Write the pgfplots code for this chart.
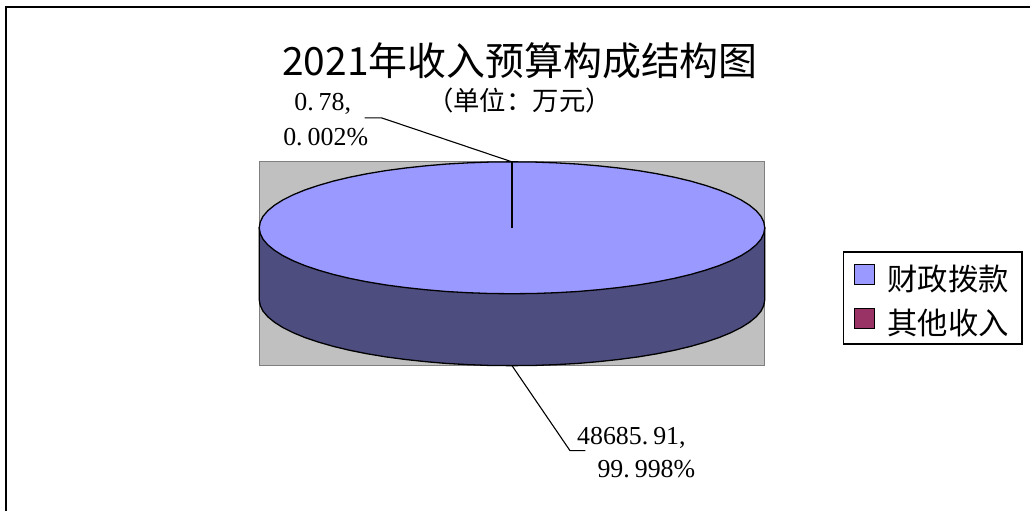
\documentclass[border=0pt]{standalone}
\usepackage{pgfplots}
\usepackage{pgfplotstable}
\usepackage{fontspec}
\pgfplotsset{compat=1.18}
\setmainfont{Liberation Sans}
\newfontfamily\cjk{Noto Sans CJK SC}
\newfontfamily\numfont{Liberation Serif}
\definecolor{pietop}{HTML}{9999FF}
\definecolor{pieside}{HTML}{4D4D80}
\definecolor{piewall}{HTML}{C0C0C0}
\definecolor{pieother}{HTML}{993366}

% rim of the disc, read off in pixels
\pgfplotstableread{
x y
765.5 228.0
764.5 222.2
761.7 216.5
756.9 210.9
750.2 205.4
741.8 200.1
731.6 195.0
719.7 190.1
706.3 185.6
691.4 181.3
675.1 177.4
657.6 173.9
639.0 170.8
619.4 168.2
599.0 166.0
578.0 164.2
556.4 163.0
534.6 162.2
512.5 162.0
490.4 162.2
468.6 163.0
447.0 164.2
426.0 166.0
405.6 168.2
386.0 170.8
367.4 173.9
349.9 177.4
333.6 181.3
318.7 185.6
305.3 190.1
293.4 195.0
283.2 200.1
274.8 205.4
268.1 210.9
263.3 216.5
260.5 222.2
259.5 228.0
260.5 233.8
263.3 239.5
268.1 245.1
274.8 250.6
283.2 255.9
293.4 261.0
305.3 265.9
318.7 270.4
333.6 274.7
349.9 278.6
367.4 282.1
386.0 285.2
405.6 287.8
426.0 290.0
447.0 291.8
468.6 293.0
490.4 293.8
512.5 294.0
534.6 293.8
556.4 293.0
578.0 291.8
599.0 290.0
619.4 287.8
639.0 285.2
657.6 282.1
675.1 278.6
691.4 274.7
706.3 270.4
719.7 265.9
731.6 261.0
741.8 255.9
750.2 250.6
756.9 245.1
761.7 239.5
764.5 233.8
765.5 228.0
}\rimtable

\pgfplotstableread{
x y
259.5 228.0
259.5 300.0
260.5 305.8
263.3 311.5
268.1 317.1
274.8 322.6
283.2 327.9
293.4 333.0
305.3 337.9
318.7 342.4
333.6 346.7
349.9 350.6
367.4 354.1
386.0 357.2
405.6 359.8
426.0 362.0
447.0 363.8
468.6 365.0
490.4 365.8
512.5 366.0
534.6 365.8
556.4 365.0
578.0 363.8
599.0 362.0
619.4 359.8
639.0 357.2
657.6 354.1
675.1 350.6
691.4 346.7
706.3 342.4
719.7 337.9
731.6 333.0
741.8 327.9
750.2 322.6
756.9 317.1
761.7 311.5
764.5 305.8
765.5 300.0
765.5 228.0
}\sidetable

\begin{document}
\begin{tikzpicture}
  \begin{axis}[
      width=1031bp, height=511bp,
      scale only axis,
      xmin=0, xmax=1031,
      ymin=0, ymax=511,
      y dir=reverse,
      hide axis,
      clip=false,
      legend cell align=left,
      legend style={
        at={(axis cs:843.5,251.5)}, anchor=north west,
        draw=black, line width=1.5bp,
        inner xsep=11bp, inner ysep=9bp,
        row sep=14bp,
        font=\fontsize{30.5}{32}\selectfont\cjk,
        nodes={text height=30bp, text depth=0bp, inner ysep=0bp},
        /tikz/every odd column/.append style={column sep=10bp},
        /tikz/every even column/.append style={column sep=0bp},
      },
    ]
    % outer frame, only top and left show
    \addplot[forget plot, draw=black, line width=2bp] coordinates {
      (6.5,511) (6.5,7) (1031,7)
    };
    \addplot[forget plot, draw=none] coordinates {(0,0) (1031,511)};
    % plot wall
    \addplot[forget plot, fill=piewall, draw=gray, line width=1bp] coordinates {
      (259.5,162) (765.5,162) (765.5,366) (259.5,366)
    } -- cycle;
    \addplot[forget plot, fill=pieside, draw=black, line width=1.3bp] table {\sidetable} -- cycle;
    \addplot[fill=pietop, draw=black, line width=1.3bp,
      legend image code/.code={
        \draw[fill=pietop, draw=black, line width=1bp] (0bp,-9bp) rectangle (20bp,11bp);
      }] table {\rimtable} -- cycle;
    \addlegendentry{财政拨款}
    % 0.78 slice, too thin to be more than a line
    \addplot[fill=pieother, draw=black, line width=1.3bp,
      legend image code/.code={
        \draw[fill=pieother, draw=black, line width=1bp] (0bp,-9bp) rectangle (20bp,11bp);
      }] coordinates {(512.5,228) (512.5,162)};
    \addlegendentry{其他收入}
    % leader lines
    \addplot[forget plot, draw=black, line width=1.1bp] coordinates {
      (365,118) (382,118) (512.5,162)
    };
    \addplot[forget plot, draw=black, line width=1.1bp] coordinates {
      (512.5,366) (570.5,451) (586,451)
    };
    \node[font=\fontsize{39.1}{41}\selectfont\cjk, anchor=center] at (axis cs:520.5,60.5) {2021年收入预算构成结构图};
    \node[font=\fontsize{26.5}{28}\selectfont\cjk, anchor=center] at (axis cs:520,101) {（单位：万元）};
    \node[font=\fontsize{26}{28}\selectfont\numfont, anchor=center] at (axis cs:323,104) {0.\kern5bp 78,};
    \node[font=\fontsize{26}{28}\selectfont\numfont, anchor=center] at (axis cs:326,137) {0.\kern5bp 002\%};
    \node[font=\fontsize{26}{28}\selectfont\numfont, anchor=center] at (axis cs:632,438) {48685.\kern5bp 91,};
    \node[font=\fontsize{26}{28}\selectfont\numfont, anchor=center] at (axis cs:647,470) {99.\kern5bp 998\%};
  \end{axis}
\end{tikzpicture}
\end{document}
